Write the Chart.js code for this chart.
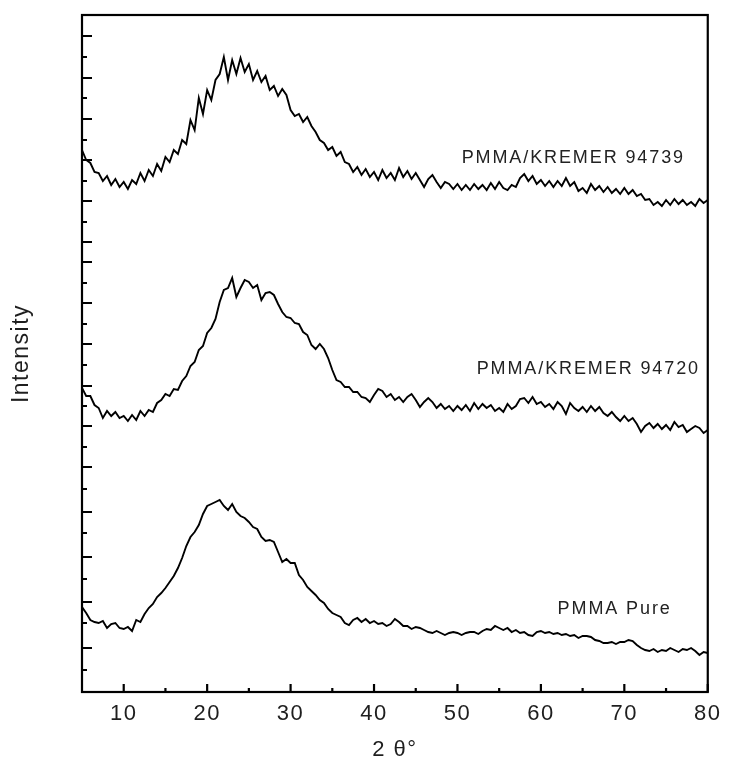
<!DOCTYPE html>
<html>
<head>
<meta charset="utf-8">
<script src="https://cdn.jsdelivr.net/npm/chart.js@4"></script>
<style>
  html, body { margin: 0; padding: 0; background: #fff; }
  canvas { display: block; }
</style>
</head>
<body>
<canvas id="xrd" width="729" height="765"></canvas>
<script>
// 2 theta grid, 5..80 in 0.5 degree steps
const twoTheta = Array.from({ length: 151 }, (_, i) => 5 + i * 0.5);

// intensity, arbitrary units (curves are stacked with an offset)
const kremer94739 = [
  542,532,529,520,519,511,516,507,513,505,
  510,503,512,508,519,511,522,516,528,521,
  535,530,542,538,552,548,572,562,594,578,
  602,592,612,618,635,612,632,618,634,620,
  628,612,621,610,616,602,606,596,603,597,
  582,576,578,570,575,566,560,552,549,542,
  545,536,540,530,528,520,525,517,523,515,
  520,512,522,514,519,512,524,515,521,513,
  519,512,505,513,517,510,504,510,508,503,
  508,502,507,502,508,503,507,502,509,503,
  510,504,502,507,505,514,518,511,516,508,
  512,506,511,505,511,506,514,506,510,501,
  504,499,508,502,506,500,505,499,503,498,
  504,498,502,496,498,492,493,487,490,486,
  492,487,493,488,492,487,490,486,493,489,
  492
];
const kremer94720 = [
  304,296,296,287,284,274,281,276,280,274,
  276,271,277,272,281,276,282,280,289,292,
  298,296,303,302,311,316,326,330,342,346,
  359,364,373,390,402,404,414,395,404,412,
  410,404,407,392,399,400,397,388,380,375,
  374,369,368,360,357,347,343,348,343,334,
  322,312,310,305,305,300,300,295,294,290,
  297,303,301,295,298,292,295,290,295,298,
  292,285,290,294,290,284,288,283,286,281,
  286,282,287,281,289,283,288,284,287,281,
  284,280,288,283,286,293,294,289,295,288,
  290,285,288,283,290,286,278,289,284,281,
  285,280,286,281,285,279,276,280,275,271,
  276,271,274,268,260,266,269,264,268,263,
  267,262,270,265,267,260,263,266,264,259,
  262
];
const pmmaPure = [
  85,79,72,70,69,71,64,68,69,64,
  63,65,61,72,70,78,84,88,95,99,
  104,110,116,124,134,146,155,160,167,178,
  186,188,190,192,186,182,188,180,176,174,
  170,165,163,155,151,152,150,140,130,133,
  129,129,117,112,105,101,97,92,89,83,
  79,77,75,69,67,72,74,70,73,69,
  71,68,69,66,68,73,70,66,66,63,
  65,64,62,60,59,61,59,57,59,60,
  59,57,59,60,60,58,61,63,62,66,
  64,62,64,60,62,59,60,57,56,60,
  61,59,60,58,59,57,58,56,57,54,
  56,56,55,52,51,49,49,50,48,50,
  50,52,51,47,44,42,41,43,40,42,
  41,44,42,40,43,42,44,41,37,40,
  39
];

const xMajorTicks = [10, 20, 30, 40, 50, 60, 70, 80];
const xMinorTicks = [15, 25, 35, 45, 55, 65, 75];
const yMajorTicks = [44, 90, 135, 180, 225, 266, 306, 348, 389, 430, 450, 491, 532, 573, 614, 656];
const yMinorTicks = [22, 69, 113, 159, 203, 245, 286, 327, 368, 409, 470, 511, 552, 594, 635];

const seriesNames = ['PMMA/KREMER 94739', 'PMMA/KREMER 94720', 'PMMA Pure'];
const labelTheta = [50.5, 52.3, 62.0];
const labelLevel = [534, 323, 83];

const FONT = '"Liberation Sans", Arial, sans-serif';

function toPoints(values) {
  return twoTheta.map((t, i) => ({ x: t, y: values[i] }));
}

const spacing = {
  id: 'spacing',
  beforeDraw(chart) { chart.ctx.letterSpacing = '1.5px'; }
};

const frameAndTicks = {
  id: 'frameAndTicks',
  afterDatasetsDraw(chart) {
    const { ctx, chartArea: a, scales: { x, y } } = chart;
    ctx.save();
    ctx.strokeStyle = '#000';
    ctx.lineWidth = 2.2;
    ctx.strokeRect(a.left, a.top, a.right - a.left, a.bottom - a.top);
    ctx.beginPath();
    xMajorTicks.forEach(v => { const px = x.getPixelForValue(v); ctx.moveTo(px, a.bottom); ctx.lineTo(px, a.bottom - 8); });
    xMinorTicks.forEach(v => { const px = x.getPixelForValue(v); ctx.moveTo(px, a.bottom); ctx.lineTo(px, a.bottom - 4); });
    yMajorTicks.forEach(v => { const py = y.getPixelForValue(v); ctx.moveTo(a.left, py); ctx.lineTo(a.left + 10, py); });
    yMinorTicks.forEach(v => { const py = y.getPixelForValue(v); ctx.moveTo(a.left, py); ctx.lineTo(a.left + 5, py); });
    ctx.stroke();

    // curve names
    ctx.letterSpacing = '1.9px';
    ctx.fillStyle = '#222';
    ctx.font = '18px ' + FONT;
    ctx.textAlign = 'left';
    ctx.textBaseline = 'middle';
    seriesNames.forEach((name, i) => {
      ctx.fillText(name, x.getPixelForValue(labelTheta[i]), y.getPixelForValue(labelLevel[i]));
    });
    ctx.restore();
  }
};

const lineStyle = { borderColor: '#000', borderWidth: 1.9, pointRadius: 0, tension: 0, fill: false };

new Chart(document.getElementById('xrd'), {
  type: 'line',
  data: {
    datasets: [
      { label: seriesNames[0], data: toPoints(kremer94739), ...lineStyle },
      { label: seriesNames[1], data: toPoints(kremer94720), ...lineStyle },
      { label: seriesNames[2], data: toPoints(pmmaPure), ...lineStyle }
    ]
  },
  options: {
    responsive: false,
    devicePixelRatio: 1,
    animation: false,
    layout: { padding: { top: 15, right: 16, left: 0, bottom: 0 } },
    plugins: { legend: { display: false }, tooltip: { enabled: false } },
    scales: {
      x: {
        type: 'linear',
        min: 5,
        max: 80,
        afterBuildTicks: s => { s.ticks = xMajorTicks.map(v => ({ value: v })); },
        afterFit: s => { s.height = 73; },
        grid: { display: false, drawTicks: false },
        border: { display: false },
        ticks: {
          padding: 9,
          maxRotation: 0,
          color: '#1e1e1e',
          font: { family: FONT, size: 22 }
        },
        title: {
          display: true,
          text: '2 θ°',
          color: '#1e1e1e',
          padding: { top: 0, bottom: 2 },
          font: { family: FONT, size: 22 }
        }
      },
      y: {
        type: 'linear',
        min: 0,
        max: 677,
        afterFit: s => { s.width = 82; },
        grid: { display: false, drawTicks: false },
        border: { display: false },
        ticks: { display: false },
        title: {
          display: true,
          text: 'Intensity',
          color: '#1e1e1e',
          padding: { top: 8, bottom: 0 },
          font: { family: FONT, size: 23 }
        }
      }
    }
  },
  plugins: [spacing, frameAndTicks]
});
</script>
</body>
</html>
